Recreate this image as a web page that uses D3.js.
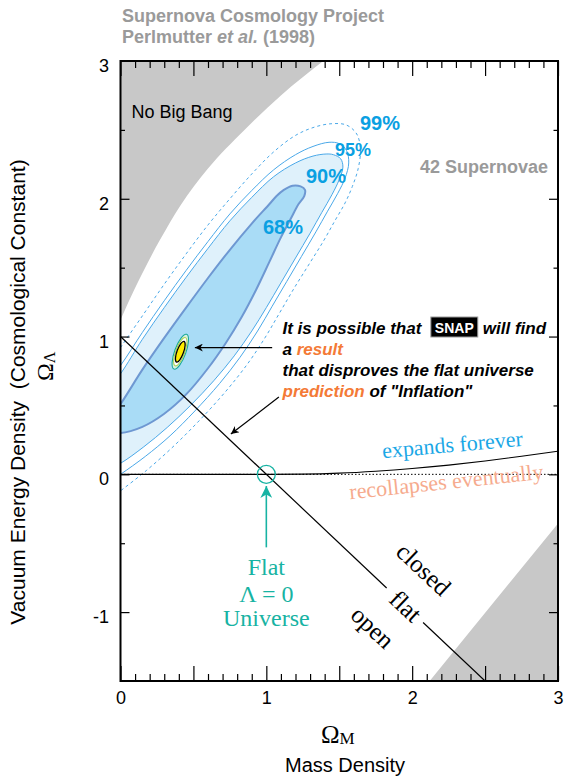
<!DOCTYPE html>
<html>
<head>
<meta charset="utf-8">
<script src="https://cdn.jsdelivr.net/npm/d3@7"></script>
<style>
  body { margin: 0; background: #fff; }
  svg text { font-family: "Liberation Sans", Arial, Helvetica, sans-serif; }
  svg .serif { font-family: "Liberation Serif", "Times New Roman", serif; }
</style>
</head>
<body>
<svg id="chart" width="565" height="782"></svg>
<script>
// ---- data (Omega_M, Omega_Lambda) ----
const xDomain = [0, 3];
const yDomain = [-1.5, 3];
const xTickLabels = [0, 1, 2, 3];
const yTickLabels = [-1, 0, 1, 2, 3];

const noBigBang = [[0, 1.12], [0.05, 1.24], [0.15, 1.46], [0.27, 1.70], [0.41, 1.95],
  [0.6, 2.22], [0.85, 2.50], [1.1, 2.75], [1.39, 3.0]];
const lowerGray = [[2.12, -1.5], [3, -0.356]];

const contour68 = [[-0.08, 0.31], [0, 0.30], [0.15, 0.345], [0.3, 0.44], [0.45, 0.58], [0.6, 0.77],
  [0.72, 0.95], [0.83, 1.14], [0.93, 1.34], [1.02, 1.54], [1.1, 1.72], [1.17, 1.86], [1.22, 1.96],
  [1.26, 2.02], [1.265, 2.065], [1.235, 2.09], [1.18, 2.095], [1.12, 2.065], [1.07, 2.02], [1.02, 1.96],
  [0.9, 1.82], [0.75, 1.63], [0.6, 1.425], [0.45, 1.21], [0.3, 0.99], [0.15, 0.76], [0, 0.51],
  [-0.08, 0.40]];
const contour90 = [[-0.1, 0.6], [0, 0.73], [0.15, 0.98], [0.3, 1.21], [0.45, 1.43], [0.6, 1.64],
  [0.75, 1.84], [0.9, 2.01], [1.05, 2.16], [1.2, 2.26], [1.32, 2.31], [1.41, 2.325], [1.46, 2.32],
  [1.51, 2.29], [1.525, 2.23], [1.5, 2.14], [1.45, 2.03], [1.38, 1.9], [1.3, 1.75], [1.2, 1.57],
  [1.1, 1.39], [1.0, 1.21], [0.9, 1.04], [0.78, 0.86], [0.64, 0.68], [0.48, 0.5], [0.32, 0.34],
  [0.16, 0.2], [0, 0.08], [-0.1, 0.03]];
const contour95 = [[-0.1, 0.66], [0, 0.79], [0.15, 1.03], [0.3, 1.26], [0.45, 1.48], [0.6, 1.69],
  [0.75, 1.89], [0.9, 2.06], [1.05, 2.21], [1.2, 2.32], [1.32, 2.38], [1.43, 2.41], [1.5, 2.40],
  [1.55, 2.35], [1.565, 2.26], [1.54, 2.15], [1.49, 2.04], [1.42, 1.91], [1.34, 1.76], [1.24, 1.58],
  [1.14, 1.40], [1.04, 1.22], [0.94, 1.04], [0.82, 0.85], [0.68, 0.66], [0.51, 0.46], [0.34, 0.28],
  [0.17, 0.13], [0, 0.0], [-0.1, -0.07]];
const contour99 = [[-0.1, 0.76], [0, 0.92], [0.15, 1.15], [0.3, 1.38], [0.45, 1.6], [0.6, 1.81],
  [0.75, 2.0], [0.9, 2.18], [1.05, 2.34], [1.2, 2.46], [1.33, 2.52], [1.45, 2.545], [1.55, 2.535],
  [1.62, 2.47], [1.645, 2.36], [1.63, 2.22], [1.59, 2.09], [1.54, 1.97], [1.47, 1.84], [1.39, 1.69],
  [1.29, 1.52], [1.19, 1.35], [1.09, 1.17], [0.99, 0.99], [0.87, 0.8], [0.72, 0.6], [0.54, 0.39],
  [0.36, 0.2], [0.18, 0.03], [0, -0.12], [-0.1, -0.2]];

const expandBoundary = [[0, 0], [1, 0], [1.25, 0.0015], [1.5, 0.0085], [1.75, 0.0225], [2, 0.042],
  [2.25, 0.067], [2.5, 0.097], [2.75, 0.131], [3, 0.168]];
const flatLineA = [[0, 1], [1.825, -0.825]];
const flatLineB = [[2.075, -1.075], [2.5, -1.5]];
const zeroLine = [[0, 0], [3, 0]];

const snapCenter = [0.41, 0.89];
const flatPoint = [1, 0];
const resultArrow = [[1.04, 0.92], [0.51, 0.92]];
const predictionArrow = [[1.086, 0.561], [0.757, 0.293]];
const flatArrow = [[1, -0.53], [1, -0.085]];

// ---- layout ----
const svg = d3.select("#chart");
const plot = { left: 120.5, right: 558, top: 61, bottom: 681 };
const x = d3.scaleLinear().domain(xDomain).range([plot.left, plot.right]);
const y = d3.scaleLinear().domain(yDomain).range([plot.bottom, plot.top]);

const defs = svg.append("defs");
defs.append("clipPath").attr("id", "clip").append("rect")
  .attr("x", plot.left).attr("y", plot.top)
  .attr("width", plot.right - plot.left).attr("height", plot.bottom - plot.top);

function arrowMarker(id, color, w, h) {
  defs.append("marker").attr("id", id)
    .attr("viewBox", "0 0 10 10").attr("refX", 10).attr("refY", 5)
    .attr("markerUnits", "userSpaceOnUse")
    .attr("markerWidth", w).attr("markerHeight", h)
    .attr("orient", "auto")
    .append("path").attr("d", "M0,0 L10,5 L0,10 L3,5 Z").attr("fill", color);
}
arrowMarker("arrowBlack", "#000", 13, 8);
arrowMarker("arrowTeal", "#17b3a3", 20, 12);

const line = d3.line().x(d => x(d[0])).y(d => y(d[1]));
const smooth = d3.line().x(d => x(d[0])).y(d => y(d[1])).curve(d3.curveMonotoneX);
const loop = d3.line().x(d => x(d[0])).y(d => y(d[1])).curve(d3.curveCatmullRomClosed.alpha(0.5));

const g = svg.append("g").attr("clip-path", "url(#clip)");

// gray excluded regions
g.append("path")
  .attr("d", d3.area().x(d => x(d[0])).y0(y(3.2)).y1(d => y(d[1])).curve(d3.curveMonotoneX)(noBigBang))
  .attr("fill", "#c8c8c8");
g.append("path")
  .attr("d", d3.area().x(d => x(d[0])).y0(y(-1.6)).y1(d => y(d[1]))(lowerGray.concat([[3.1, -0.21]])))
  .attr("fill", "#c8c8c8");

// confidence contours
g.append("path").attr("d", loop(contour99))
  .attr("fill", "none").attr("stroke", "#4aa8e8").attr("stroke-width", 1).attr("stroke-dasharray", "3,3");
g.append("path").attr("d", loop(contour95))
  .attr("fill", "none").attr("stroke", "#4aa8e8").attr("stroke-width", 1);
g.append("path").attr("d", loop(contour90))
  .attr("fill", "#dff1fb").attr("stroke", "#4aa8e8").attr("stroke-width", 1);
g.append("path").attr("d", loop(contour68))
  .attr("fill", "#a9dcf6").attr("stroke", "#6e98d2").attr("stroke-width", 2);

// lambda = 0 and expansion boundary
g.append("path").attr("d", line(zeroLine))
  .attr("stroke", "#000").attr("stroke-width", 1).attr("stroke-dasharray", "1.5,2").attr("fill", "none");
g.append("path").attr("d", smooth(expandBoundary))
  .attr("stroke", "#000").attr("stroke-width", 1.1).attr("fill", "none");

// flat universe line
[flatLineA, flatLineB].forEach(seg => {
  g.append("path").attr("d", line(seg)).attr("stroke", "#000").attr("stroke-width", 1.2).attr("fill", "none");
});

// SNAP simulated contour
const snap = g.append("g")
  .attr("transform", `translate(${x(snapCenter[0])},${y(snapCenter[1])}) rotate(20)`);
snap.append("ellipse").attr("rx", 5.6).attr("ry", 18.5).attr("fill", "#d9f0e0").attr("stroke", "#1aa99a").attr("stroke-width", 1.1);
snap.append("ellipse").attr("rx", 4.5).attr("ry", 15).attr("fill", "#fff").attr("stroke", "#a6d24a").attr("stroke-width", 1);
snap.append("ellipse").attr("rx", 3.3).attr("ry", 11).attr("fill", "#ffeb00").attr("stroke", "#000").attr("stroke-width", 1.3);

// flat lambda=0 marker
svg.append("circle").attr("cx", x(flatPoint[0])).attr("cy", y(flatPoint[1])).attr("r", 9)
  .attr("fill", "none").attr("stroke", "#17b3a3").attr("stroke-width", 1.3);
svg.append("path").attr("d", line(flatArrow))
  .attr("stroke", "#17b3a3").attr("stroke-width", 1.6).attr("marker-end", "url(#arrowTeal)");

// annotation arrows
[resultArrow, predictionArrow].forEach(a => {
  svg.append("path").attr("d", line(a)).attr("stroke", "#000").attr("stroke-width", 1.2)
    .attr("fill", "none").attr("marker-end", "url(#arrowBlack)");
});

// ---- axes ----
function tickRow(axis, vals, size, transform) {
  const a = svg.append("g").attr("transform", transform)
    .call(axis.tickValues(vals).tickSize(size).tickSizeOuter(0).tickFormat(""));
  a.select(".domain").remove();
  a.selectAll(".tick line").attr("stroke", "#000").attr("stroke-width", 1.2);
}
const xMinor = d3.range(1, 30).filter(i => i % 5 !== 0).map(i => i / 10);
const xMajor = d3.range(0, 7).map(i => i / 2);
const yMinor = [-0.5, 0.5, 1.5, 2.5];
const yMajor = [-1, 0, 1, 2];
tickRow(d3.axisBottom(x), xMinor, -7, `translate(0,${plot.bottom})`);
tickRow(d3.axisBottom(x), xMajor, -15, `translate(0,${plot.bottom})`);
tickRow(d3.axisTop(x), xMinor, -7, `translate(0,${plot.top})`);
tickRow(d3.axisTop(x), xMajor, -15, `translate(0,${plot.top})`);
tickRow(d3.axisLeft(y), yMinor, -4.5, `translate(${plot.left},0)`);
tickRow(d3.axisLeft(y), yMajor, -9, `translate(${plot.left},0)`);
tickRow(d3.axisRight(y), yMinor, -4.5, `translate(${plot.right},0)`);
tickRow(d3.axisRight(y), yMajor, -9, `translate(${plot.right},0)`);

const xLab = svg.append("g").attr("transform", `translate(0,${plot.bottom})`)
  .call(d3.axisBottom(x).tickValues(xTickLabels).tickSize(0).tickPadding(10).tickFormat(d => String(d)));
xLab.select(".domain").remove();
xLab.selectAll("text").attr("font-size", 18).attr("fill", "#000")
  .style("font-family", "'Liberation Sans', Arial, sans-serif");
const yLab = svg.append("g").attr("transform", `translate(${plot.left},0)`)
  .call(d3.axisLeft(y).tickValues(yTickLabels).tickSize(0).tickPadding(11.5).tickFormat(d => String(d)));
yLab.select(".domain").remove();
yLab.selectAll("text").attr("font-size", 18).attr("fill", "#000").attr("dy", "0.58em")
  .style("font-family", "'Liberation Sans', Arial, sans-serif");

svg.append("rect").attr("x", plot.left).attr("y", plot.top)
  .attr("width", plot.right - plot.left).attr("height", plot.bottom - plot.top)
  .attr("fill", "none").attr("stroke", "#000").attr("stroke-width", 2);

// ---- texts ----
svg.append("text").attr("x", 122).attr("y", 22).attr("font-size", 18)
  .attr("font-weight", "bold").attr("fill", "#9a9a9a").text("Supernova Cosmology Project");
const t2 = svg.append("text").attr("x", 122).attr("y", 43).attr("font-size", 18)
  .attr("font-weight", "bold").attr("fill", "#9a9a9a");
t2.append("tspan").text("Perlmutter ");
t2.append("tspan").attr("font-style", "italic").text("et al.");
t2.append("tspan").text(" (1998)");

svg.append("text").attr("x", 131.5).attr("y", 118).attr("font-size", 18).text("No Big Bang");
svg.append("text").attr("x", 420).attr("y", 173).attr("font-size", 18)
  .attr("font-weight", "bold").attr("fill", "#9a9a9a").text("42 Supernovae");

const pctColor = "#0aa0e2";
[["99%", 360, 130, 20], ["95%", 335, 156, 18], ["90%", 306, 183, 20], ["68%", 263, 234, 20]]
  .forEach(([s, px, py, fs]) => {
    svg.append("text").attr("x", px).attr("y", py).attr("font-size", fs)
      .attr("font-weight", "bold").attr("fill", pctColor).text(s);
  });

// annotation block
const ann = svg.append("g").attr("font-size", 17).attr("font-weight", "bold").attr("font-style", "italic");
const a1 = ann.append("text").attr("x", 282.5).attr("y", 334).text("It is possible that");
const w1 = a1.node().getComputedTextLength();
const boxX = 282.5 + w1 + 9.5;
const snapLabel = ann.append("text").attr("font-style", "normal").attr("font-size", 14)
  .attr("fill", "#fff").attr("y", 332.5).text("SNAP");
const ws = snapLabel.node().getComputedTextLength();
ann.insert("rect", "text:last-child").attr("x", boxX).attr("y", 317).attr("width", ws + 8).attr("height", 20)
  .attr("fill", "#000").attr("stroke", "#9a9a9a").attr("stroke-width", 1);
snapLabel.attr("x", boxX + 4);
ann.append("text").attr("x", boxX + ws + 8 + 5).attr("y", 334).text("will find");
const a2 = ann.append("text").attr("x", 282.5).attr("y", 355);
a2.append("tspan").text("a ");
a2.append("tspan").attr("fill", "#f47a36").text("result");
ann.append("text").attr("x", 282.5).attr("y", 376).text("that disproves the flat universe");
const a4 = ann.append("text").attr("x", 282.5).attr("y", 397);
a4.append("tspan").attr("fill", "#f47a36").text("prediction");
a4.append("tspan").text(" of \"Inflation\"");

// serif labels
svg.append("text").attr("class", "serif").attr("font-size", 22).attr("fill", "#1aa7e6")
  .attr("text-anchor", "middle").attr("transform", "translate(453,452) rotate(-5)").text("expands forever");
svg.append("text").attr("class", "serif").attr("font-size", 22).attr("fill", "#f6ab8e")
  .attr("text-anchor", "middle").attr("transform", "translate(447,489) rotate(-6)").text("recollapses eventually");

[["closed", 423, 570], ["flat", 405, 607], ["open", 372, 628]].forEach(([s, px, py]) => {
  svg.append("text").attr("class", "serif").attr("font-size", 25).attr("text-anchor", "middle")
    .attr("dy", "0.3em").attr("transform", `translate(${px},${py}) rotate(43.3)`).text(s);
});

const teal = svg.append("g").attr("font-size", 24).attr("fill", "#17b3a3").attr("text-anchor", "middle");
teal.append("text").attr("class", "serif").attr("x", x(1)).attr("y", 575).text("Flat");
teal.append("text").attr("class", "serif").attr("x", x(1)).attr("y", 601.5).text("\u039B = 0");
teal.append("text").attr("class", "serif").attr("x", x(1)).attr("y", 626).text("Universe");

// axis titles
const xt = svg.append("text").attr("class", "serif").attr("x", 321).attr("y", 743);
xt.append("tspan").attr("font-size", 25).text("\u03A9");
xt.append("tspan").attr("font-size", 17).attr("dy", 1).text("M");
svg.append("text").attr("x", 345).attr("y", 772).attr("font-size", 20).attr("text-anchor", "middle")
  .text("Mass Density");

svg.append("text").attr("font-size", 21).attr("text-anchor", "middle")
  .attr("transform", "translate(25,392) rotate(-90)")
  .text("Vacuum Energy Density\u00A0\u00A0(Cosmological Constant)");
const yt = svg.append("text").attr("class", "serif").attr("transform", "translate(53,381) rotate(-90)");
yt.append("tspan").attr("font-size", 24).text("\u03A9");
yt.append("tspan").attr("font-size", 16).attr("dy", 2).text("\u039B");
</script>
</body>
</html>
